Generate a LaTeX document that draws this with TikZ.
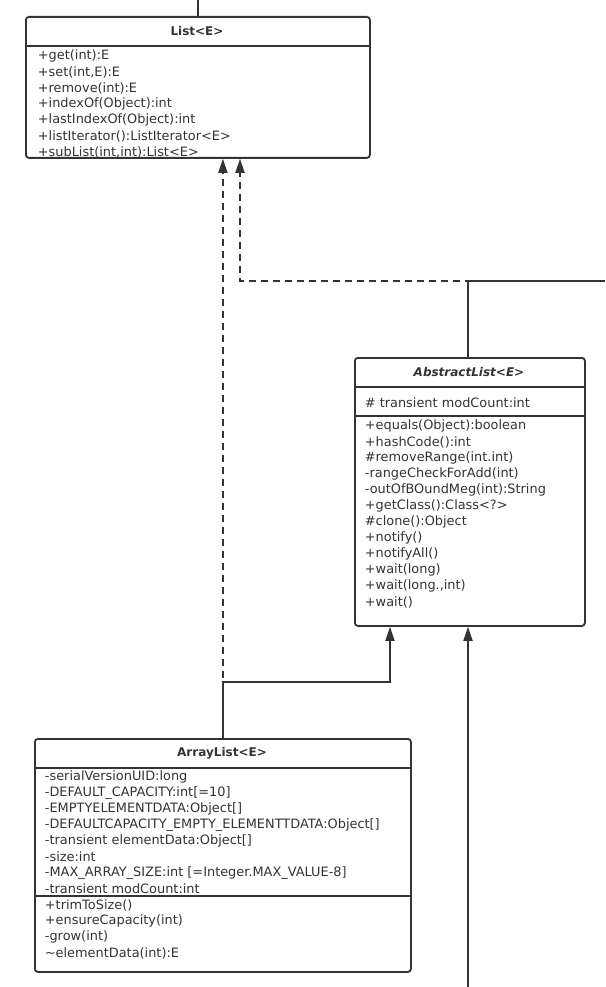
\documentclass[tikz,border=0pt]{standalone}
\usepackage{fontspec}
\setmainfont{DejaVu Sans}
\usetikzlibrary{positioning,calc,arrows.meta}
\definecolor{umlline}{HTML}{333333}
\tikzset{
  umlbox/.style={draw, rounded corners=3pt, anchor=north west, inner sep=0pt},
  classname/.style={inner sep=0pt, font=\bfseries\fontsize{12}{14}\selectfont},
  member/.style={anchor=west, inner sep=0pt, font=\fontsize{12.9}{14}\selectfont},
  realize/.style={dash pattern=on 7pt off 5pt, -{Triangle[width=9pt,length=14pt]}},
  inherit/.style={-{Triangle[width=9pt,length=14pt]}}
}
\begin{document}
\begin{tikzpicture}[x=1pt,y=-1pt,line width=1.8pt,color=umlline]
    \useasboundingbox (0,0) rectangle (605,987);
    % List<E>
    \node[umlbox, minimum width=344pt, minimum height=141pt] (list) at (25,16) {};
    \draw (25,46) -- (369,46);
    \node[classname] (listname) at (197,31) {List<E>};
    \foreach \txt [count=\i] in {+get(int):E, {+set(int,E):E}, +remove(int):E,
        +indexOf(Object):int, +lastIndexOf(Object):int,
        +listIterator():ListIterator<E>, {+subList(int,int):List<E>}}
        \node[member] (listop\i) at (37,{40+16*\i}) {\txt};
    % AbstractList<E>
    \node[umlbox, minimum width=230pt, minimum height=268pt] (abstract) at (354,357) {};
    \draw (354,387) -- (584,387);
    \draw (354,416) -- (584,416);
    \node[classname, font=\bfseries\itshape\fontsize{12}{14}\selectfont] (abstractname) at (469,372) {AbstractList<E>};
    \node[member] (abstractattr1) at (364,403) {\# transient modCount:int};
    \foreach \txt [count=\i] in {+equals(Object):boolean, +hashCode():int,
        \#removeRange(int.int), -rangeCheckForAdd(int), -outOfBOundMeg(int):String,
        +getClass():Class<?>, \#clone():Object, +notify(), +notifyAll(),
        +wait(long), {+wait(long.,int)}, +wait()}
        \node[member] (abstractop\i) at (364,{410+16*\i}) {\txt};
    % ArrayList<E>
    \node[umlbox, minimum width=376pt, minimum height=233pt] (arraylist) at (34,738) {};
    \draw (34,768) -- (410,768);
    \draw (34,896) -- (410,896);
    \node[classname] (arraylistname) at (222,753) {ArrayList<E>};
    \foreach \txt [count=\i] in {-serialVersionUID:long, {-DEFAULT\_CAPACITY:int[=10]},
        -EMPTYELEMENTDATA:Object[], -DEFAULTCAPACITY\_EMPTY\_ELEMENTTDATA:Object[],
        -transient elementData:Object[], -size:int,
        {-MAX\_ARRAY\_SIZE:int [=Integer.MAX\_VALUE-8]}, -transient modCount:int}
        \node[member] (arraylistattr\i) at (44,{761+16*\i}) {\txt};
    \foreach \txt [count=\i] in {+trimToSize(), +ensureCapacity(int), -grow(int),
        \textasciitilde elementData(int):E}
        \node[member] (arraylistop\i) at (44,{889+16*\i}) {\txt};
    % connectors
    \coordinate (topend) at (197,0);
    \coordinate (aljoin) at (390,682);
    \coordinate (ajoin) at (468,281);
    \coordinate (lcorner) at (240,281);
    \coordinate (rightend) at (605,281);
    \coordinate (bottomend) at (468,987);
    \draw (list.north) -- (list.north |- topend);
    \draw[realize] (arraylist.north) -- (arraylist.north |- list.south);
    \draw[inherit] (arraylist.north) |- (aljoin) -- (aljoin |- abstract.south);
    \draw[realize] (abstract.north -| ajoin) -- (ajoin) -- (lcorner) -- (lcorner |- list.south);
    \draw (rightend) -- (ajoin) -- (abstract.north -| ajoin);
    \draw[inherit] (bottomend) -- (bottomend |- abstract.south);
\end{tikzpicture}
\end{document}
